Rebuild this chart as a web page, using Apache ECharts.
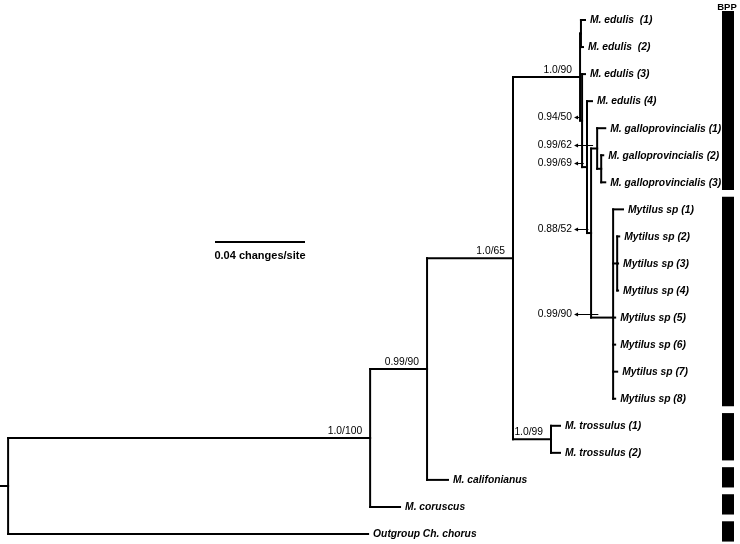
<!DOCTYPE html>
<html><head><meta charset="utf-8">
<script src="https://cdn.jsdelivr.net/npm/echarts@6/dist/echarts.min.js"></script>
<style>html,body{margin:0;padding:0;background:#fff}#c{width:740px;height:544px}</style>
</head><body><div id="c"></div>
<script>
// ---- data (leaves in display order, top to bottom) ----
const leafNames = ["M. edulis  (1)", "M. edulis  (2)", "M. edulis (3)", "M. edulis (4)",
  "M. galloprovincialis (1)", "M. galloprovincialis (2)", "M. galloprovincialis (3)",
  "Mytilus sp (1)", "Mytilus sp (2)", "Mytilus sp (3)", "Mytilus sp (4)",
  "Mytilus sp (5)", "Mytilus sp (6)", "Mytilus sp (7)", "Mytilus sp (8)",
  "M. trossulus (1)", "M. trossulus (2)", "M. califonianus", "M. coruscus", "Outgroup Ch. chorus"];
const leafParents = ["E1","E1","N1","N2","G","GG","GG","M","SA","SA","SA","M","M","M","M","T","T","B","A","R"];
const leafBranch = [0.0018,0.0009,0.0013,0.0022,0.0036,0.0009,0.0018,0.0044,0.0009,0.0004,0.0004,
  0.0009,0.0009,0.0018,0.0009,0.0040,0.0040,0.0093,0.0133,0.1600];
// internal nodes
const nodeIds      = ["R","A","B","C","T","D","E1","N1","N2","N3","G","GG","M","SA"];
const nodeParents  = [null,"R","A","B","C","C","D","D","N1","N2","N3","G","N3","M"];
const nodeBranch   = [0.0036,0.1609,0.0253,0.0382,0.0169,0.0298,0.0004,0.0009,0.0022,0.0018,0.0027,0.0018,0.0098,0.0018];
const nodeSupport  = ["","1.0/100","0.99/90","1.0/65","1.0/99","1.0/90","","0.94/50","0.99/69","0.88/52","0.99/62","","0.99/90",""];
const calloutNodes = ["N1","N2","N3","G","M"];
// BPP delimitation bars (leaf index ranges)
const bppGroups = [[0,6],[7,14],[15,16],[17,17],[18,18],[19,19]];
const bppTitle = "BPP";
const scaleBarLength = 0.04;
const scaleBarLabel = "0.04 changes/site";

// ---- build tree ----
const all = {};
leafNames.forEach((n,i)=>{ all['L'+i] = {id:'L'+i, parent:leafParents[i], bl:leafBranch[i], leaf:true, idx:i, name:n, children:[]}; });
nodeIds.forEach((id,i)=>{ all[id] = {id, parent:nodeParents[i], bl:nodeBranch[i], leaf:false, support:nodeSupport[i], children:[]}; });
Object.values(all).forEach(n=>{ if(n.parent) all[n.parent].children.push(n); });
function setX(n, px){ n.px = px; n.x = px + n.bl; n.children.forEach(c=>setX(c, n.x)); }
setX(all['R'], 0);
function setY(n){
  if(n.leaf){ n.y = n.idx; return; }
  n.children.forEach(setY);
  const ys = n.children.map(c=>c.y);
  n.y = ys.reduce((a,b)=>a+b,0)/ys.length;
  n.ymin = Math.min(...ys); n.ymax = Math.max(...ys);
}
setY(all['R']);
const items = Object.values(all);

const FONT = '"Liberation Sans", Arial, Helvetica, sans-serif';
function txt(o){ return Object.assign({fill:'#000'}, o, {textAlign:o.align, textVerticalAlign:o.verticalAlign}); }

const chart = echarts.init(document.getElementById('c'), null, {renderer:'canvas'});
chart.setOption({
  animation:false,
  backgroundColor:'#fff',
  grid:{left:0, top:20, width:720, height:514},
  xAxis:{type:'value', min:0, max:0.32, show:false},
  yAxis:{type:'value', min:0, max:19, inverse:true, show:false},
  series:[{
    type:'custom', coordinateSystem:'cartesian2d', clip:false, silent:true,
    data: items.map(n=>[n.x, n.y]),
    encode:{x:0, y:1},
    renderItem:function(params, api){
      const n = items[params.dataIndex];
      const p = api.coord([n.x, n.y]);
      const pp = api.coord([n.px, n.y]);
      const ch = [];
      ch.push({type:'line', shape:{x1:pp[0], y1:p[1], x2:p[0], y2:p[1]}, style:{stroke:'#000', lineWidth:2, lineCap:'square'}});
      if(!n.leaf){
        const a = api.coord([n.x, n.ymin]), b = api.coord([n.x, n.ymax]);
        ch.push({type:'line', shape:{x1:p[0], y1:a[1], x2:p[0], y2:b[1]}, style:{stroke:'#000', lineWidth:2, lineCap:'square'}});
      }
      if(n.leaf){
        ch.push({type:'text', style:txt({text:n.name, x:p[0]+5, y:p[1]+0.5, align:'left', verticalAlign:'middle',
          font:'italic bold 10.3px '+FONT})});
      } else if(n.support){
        if(calloutNodes.indexOf(n.id) >= 0){
          const D = all['D'];
          const dx = api.coord([D.x, 0])[0];
          const ty = Math.round(p[1]-4)+0.5;
          const endX = pp[0] + (p[0]-pp[0])*0.33;
          ch.push({type:'text', style:txt({text:n.support, x:dx-8, y:ty, align:'right', verticalAlign:'middle', font:'10.3px '+FONT})});
          ch.push({type:'line', shape:{x1:dx-3, y1:ty, x2:endX, y2:ty}, style:{stroke:'#000', lineWidth:1}});
          ch.push({type:'polygon', shape:{points:[[dx-6,ty],[dx-2,ty-2],[dx-2,ty+2]]}, style:{fill:'#000'}});
        } else {
          ch.push({type:'text', style:txt({text:n.support, x:p[0]-8, y:p[1]-2, align:'right', verticalAlign:'bottom', font:'10.3px '+FONT})});
        }
      }
      return {type:'group', children:ch};
    }
  },{
    type:'custom', coordinateSystem:'cartesian2d', clip:false, silent:true,
    data: bppGroups.map(g=>[0, g[0], g[1]]),
    encode:{x:0, y:1},
    renderItem:function(params, api){
      const top = Math.max(11, api.coord([0, api.value(1)-0.47])[1]);
      const bot = api.coord([0, api.value(2)+0.28])[1];
      return {type:'rect', shape:{x:722, y:top, width:12, height:bot-top}, style:{fill:'#000'}};
    }
  }]
});
const x0 = chart.convertToPixel({xAxisIndex:0}, 0);
const len = chart.convertToPixel({xAxisIndex:0}, scaleBarLength) - x0;
const sbX = 215, sbY = 242;
chart.setOption({graphic:[
  {type:'line', shape:{x1:sbX, y1:sbY, x2:sbX+len, y2:sbY}, style:{stroke:'#000', lineWidth:2}},
  {type:'text', style:{text:scaleBarLabel, x:sbX+len/2, y:sbY+14, align:'center', verticalAlign:'middle',
    textAlign:'center', textVerticalAlign:'middle', font:'bold 11px '+FONT, fill:'#000'}},
  {type:'text', z:100, style:{text:bppTitle, x:727, y:7, align:'center', verticalAlign:'middle',
    textAlign:'center', textVerticalAlign:'middle', font:'bold 9.5px '+FONT, fill:'#000'}}
]});
</script>
</body></html>
